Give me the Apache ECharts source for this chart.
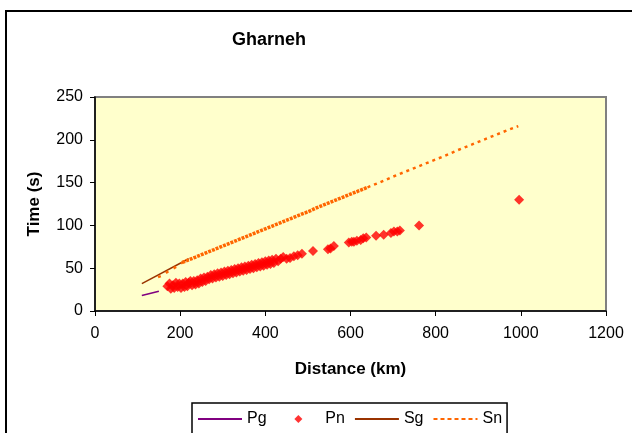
<!DOCTYPE html>
<html>
<head>
<meta charset="utf-8">
<script src="https://cdn.jsdelivr.net/npm/echarts@6/dist/echarts.min.js"></script>
<style>
  html, body { margin: 0; padding: 0; background: #fff; }
  #chart { width: 632px; height: 433px; }
</style>
</head>
<body>
<div id="chart"></div>
<script>
// travel-time data, [distance km, time s]
const pgLine = [[110, 18], [150, 23]];
const sgLine = [[110, 32], [220, 61]];
const snStart = [[148, 39.5], [160, 42], [176, 48], [191, 51.5], [205, 56.7]];
const snDense = [
  [205, 56.7], [220, 59.7], [235, 62.7], [250, 65.8], [265, 68.8], [280, 71.8],
  [295, 74.9], [310, 77.9], [325, 80.9], [340, 84], [355, 87], [370, 90], [385, 93],
  [400, 96], [415, 99], [430, 102], [445, 105], [460, 108], [475, 111], [490, 114],
  [505, 117], [520, 120.5], [540, 124.5], [560, 128.5], [580, 132.5], [600, 136.5],
  [620, 140.5], [640, 144.5]
];
const snSparse = [
  [640, 144.5], [670, 150.5], [700, 157], [730, 163], [760, 169], [790, 175],
  [820, 181], [850, 187.5], [880, 193.5], [910, 199.5], [940, 205.5], [970, 211.5],
  [994, 216]
];
const pnPoints = [
  [170, 29], [175, 32], [178, 26], [183, 30], [186, 27], [190, 33], [194, 28],
  [198, 32], [202, 27], [206, 32], [210, 28], [213, 34], [217, 29], [220, 33],
  [224, 35], [228, 30], [232, 35], [236, 31], [240, 36], [244, 32], [248, 38],
  [252, 34], [256, 39], [260, 35], [264, 40], [268, 37], [272, 42], [276, 38],
  [280, 43], [284, 39], [288, 44], [292, 40], [296, 45], [300, 41], [304, 46],
  [308, 42], [312, 47], [316, 43], [320, 48], [324, 44], [328, 49], [332, 45],
  [336, 50], [340, 46], [344, 51], [348, 47], [352, 52], [356, 48], [360, 53],
  [364, 49], [368, 54], [372, 50], [376, 55], [380, 51], [384, 56], [388, 52],
  [392, 57], [396, 53], [400, 58], [404, 54], [408, 59], [412, 55], [416, 60],
  [420, 56], [425, 61], [430, 58], [436, 61], [442, 63], [450, 61], [458, 62],
  [467, 64], [476, 65], [486, 67], [512, 70], [547, 72], [553, 73], [561, 76],
  [596, 80], [603, 81], [608, 81], [615, 82], [624, 83], [630, 85], [637, 86],
  [660, 88], [678, 89], [695, 91], [702, 93], [710, 93], [716, 94], [761, 100],
  [996, 130]
];
const xTicks = [0, 200, 400, 600, 800, 1000, 1200];

const font = 'Liberation Sans, Arial, sans-serif';
const lineIcon = 'path://M0,0h44v2h-44z';
const dotIcon = 'path://M0,0h4v2h-4zM7,0h4v2h-4zM14,0h4v2h-4zM21,0h4v2h-4zM28,0h4v2h-4zM35,0h4v2h-4zM42,0h2v2h-2z';
const diamondIcon = 'path://M5,0L10,5L5,10L0,5Z';
const chart = echarts.init(document.getElementById('chart'));

chart.setOption({
  animation: false,
  backgroundColor: '#fff',
  textStyle: { fontFamily: font },
  graphic: [{
    type: 'rect',
    shape: { x: 6, y: 11, width: 800, height: 600 },
    style: { fill: 'none', stroke: '#000', lineWidth: 2 },
    z: 0
  }],
  title: {
    text: 'Gharneh',
    left: 232,
    top: 31,
    padding: 0,
    textStyle: { fontFamily: font, fontSize: 18, fontWeight: 'bold', color: '#000' }
  },
  grid: {
    left: 95, top: 97, right: 26, bottom: 122,
    show: true,
    backgroundColor: '#FFFFCC',
    borderColor: '#808080',
    borderWidth: 2
  },
  legend: {
    left: 192,
    top: 403,
    padding: [8, 5, 30, 6],
    itemWidth: 44,
    itemHeight: 8,
    itemGap: 10,
    backgroundColor: '#fff',
    borderColor: '#000',
    borderWidth: 1.5,
    borderRadius: 0,
    textStyle: { fontFamily: font, fontSize: 16, color: '#000' },
    formatter: name => name === 'Pg' ? 'Pg\u00a0\u00a0\u00a0\u00a0' : name,
    data: [
      { name: 'Pg', icon: lineIcon },
      { name: 'Pn', icon: diamondIcon },
      { name: 'Sg', icon: lineIcon },
      { name: 'Sn', icon: dotIcon }
    ]
  },
  xAxis: {
    type: 'value',
    min: 0, max: 1200, interval: 200,
    name: 'Distance (km)',
    nameLocation: 'middle',
    nameGap: 50,
    nameTextStyle: { fontFamily: font, fontSize: 17, fontWeight: 'bold', color: '#000' },
    axisLine: { show: true, lineStyle: { color: '#000', width: 1.5 } },
    axisTick: { show: true, length: 5, lineStyle: { color: '#000' } },
    axisLabel: {
      margin: 15, fontSize: 16, color: '#000', fontFamily: font,
      formatter: v => xTicks.includes(v) ? String(v) : ''
    },
    splitLine: { show: false }
  },
  yAxis: {
    type: 'value',
    min: 0, max: 250, interval: 50,
    name: 'Time (s)',
    nameLocation: 'middle',
    nameGap: 52,
    nameTextStyle: { fontFamily: font, fontSize: 17, fontWeight: 'bold', color: '#000' },
    axisLine: { show: true, lineStyle: { color: '#000', width: 1.5 } },
    axisTick: { show: true, length: 5, lineStyle: { color: '#000' } },
    axisLabel: { margin: 12, fontSize: 16, color: '#000', fontFamily: font },
    splitLine: { show: false }
  },
  series: [
    {
      name: 'Pg', type: 'line', data: pgLine, symbol: 'none',
      lineStyle: { color: '#800080', width: 1.5 }, itemStyle: { color: '#800080' }
    },
    {
      name: 'Pn', type: 'scatter', data: pnPoints, symbol: 'diamond', symbolSize: 10,
      itemStyle: { color: '#FF0000' }
    },
    {
      name: 'Sg', type: 'line', data: sgLine, symbol: 'none',
      lineStyle: { color: '#993300', width: 1.5 }, itemStyle: { color: '#993300' }
    },
    {
      name: 'Sn', type: 'line', data: snStart, symbol: 'none',
      lineStyle: { color: '#FF6600', width: 2.5, type: [3, 6] }, itemStyle: { color: '#FF6600' }
    },
    {
      name: 'Sn', type: 'line', data: snDense, symbol: 'none',
      lineStyle: { color: '#FF6600', width: 3.5, type: [3, 1] }, itemStyle: { color: '#FF6600' }
    },
    {
      name: 'Sn', type: 'line', data: snSparse, symbol: 'none',
      lineStyle: { color: '#FF6600', width: 2.5, type: [3, 4] }, itemStyle: { color: '#FF6600' }
    }
  ]
});
</script>
</body>
</html>
